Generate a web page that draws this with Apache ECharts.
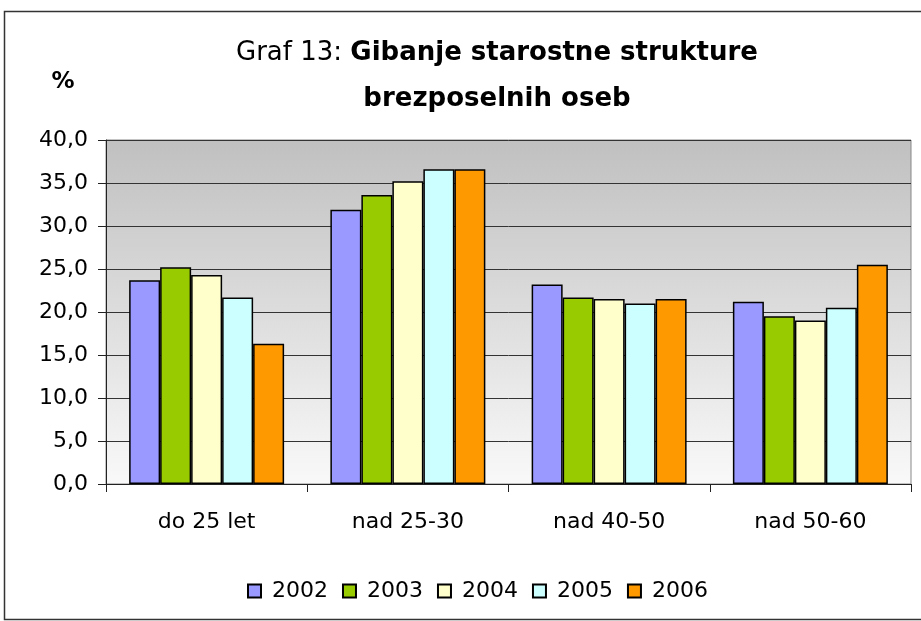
<!DOCTYPE html>
<html>
<head>
<meta charset="utf-8">
<script src="https://cdn.jsdelivr.net/npm/echarts@6/dist/echarts.min.js"></script>
<style>html,body{margin:0;padding:0;background:#fff;}#c{width:921px;height:621px;}</style>
</head>
<body>
<div id="c"></div>
<script>
const categories = ['do 25 let', 'nad 25-30', 'nad 40-50', 'nad 50-60'];
const years = ['2002', '2003', '2004', '2005', '2006'];
const v2002 = [23.7, 31.9, 23.2, 21.2];
const v2003 = [25.2, 33.6, 21.7, 19.5];
const v2004 = [24.3, 35.2, 21.5, 19.0];
const v2005 = [21.7, 36.6, 21.0, 20.5];
const v2006 = [16.3, 36.6, 21.5, 25.5];
const colors = ['#9999FF', '#99CC00', '#FFFFCC', '#CCFFFF', '#FF9900'];
const seriesValues = [v2002, v2003, v2004, v2005, v2006];

const FONT = 'DejaVu Sans';
const chart = echarts.init(document.getElementById('c'), null, {renderer: 'canvas'});
chart.setOption({
  animation: false,
  backgroundColor: '#ffffff',
  textStyle: {fontFamily: FONT},
  title: {
    text: '{n|Graf 13: }{b|Gibanje starostne strukture}\n{b|brezposelnih oseb}',
    left: 492, top: 25, textAlign: 'center',
    textStyle: {
      fontFamily: FONT, fontSize: 26, lineHeight: 46, color: '#000',
      rich: {
        n: {fontFamily: FONT, fontSize: 26, fontWeight: 'normal', color: '#000', lineHeight: 46},
        b: {fontFamily: FONT, fontSize: 26, fontWeight: 'bold', color: '#000', lineHeight: 46}
      }
    }
  },
  graphic: [
    {type: 'rect', shape: {x: 4.5, y: 11.5, width: 940, height: 608}, style: {fill: 'none', stroke: '#333', lineWidth: 1.5}, silent: true},
    {type: 'text', x: 63, y: 82, style: {text: '%', font: 'bold 23px "DejaVu Sans"', fill: '#000', align: 'center', verticalAlign: 'middle'}}
  ],
  legend: {
    data: years,
    left: 242, top: 575,
    itemWidth: 13, itemHeight: 13, itemGap: 14,
    icon: 'rect',
    textStyle: {fontFamily: FONT, fontSize: 22, color: '#000', padding: [0, 0, 0, 6]}
  },
  grid: {
    left: 106, right: 10, top: 140, bottom: 137,
    show: true,
    borderColor: '#888', borderWidth: 1,
    backgroundColor: new echarts.graphic.LinearGradient(0, 0, 0, 1, [
      {offset: 0, color: '#c0c0c0'},
      {offset: 1, color: '#f9f9f9'}
    ])
  },
  xAxis: {
    type: 'category',
    data: categories,
    axisLine: {lineStyle: {color: '#222', width: 1}},
    axisTick: {show: true, length: 8, inside: false, alignWithLabel: false, lineStyle: {color: '#222'}},
    axisLabel: {fontFamily: FONT, fontSize: 22, color: '#000', margin: 27}
  },
  yAxis: {
    type: 'value',
    min: 0, max: 40, interval: 5,
    axisLine: {show: true, lineStyle: {color: '#222', width: 1}},
    axisTick: {show: true, length: 8, lineStyle: {color: '#222'}},
    axisLabel: {fontFamily: FONT, fontSize: 22, color: '#000', margin: 18,
      formatter: v => v.toFixed(1).replace('.', ',')},
    splitLine: {show: true, lineStyle: {color: '#333', width: 1}}
  },
  series: years.map((y, i) => ({
    name: y,
    type: 'bar',
    data: seriesValues[i],
    barGap: '0%',
    barCategoryGap: '23%',
    itemStyle: {color: colors[i], borderColor: '#000', borderWidth: 1.5}
  }))
});
</script>
</body>
</html>
